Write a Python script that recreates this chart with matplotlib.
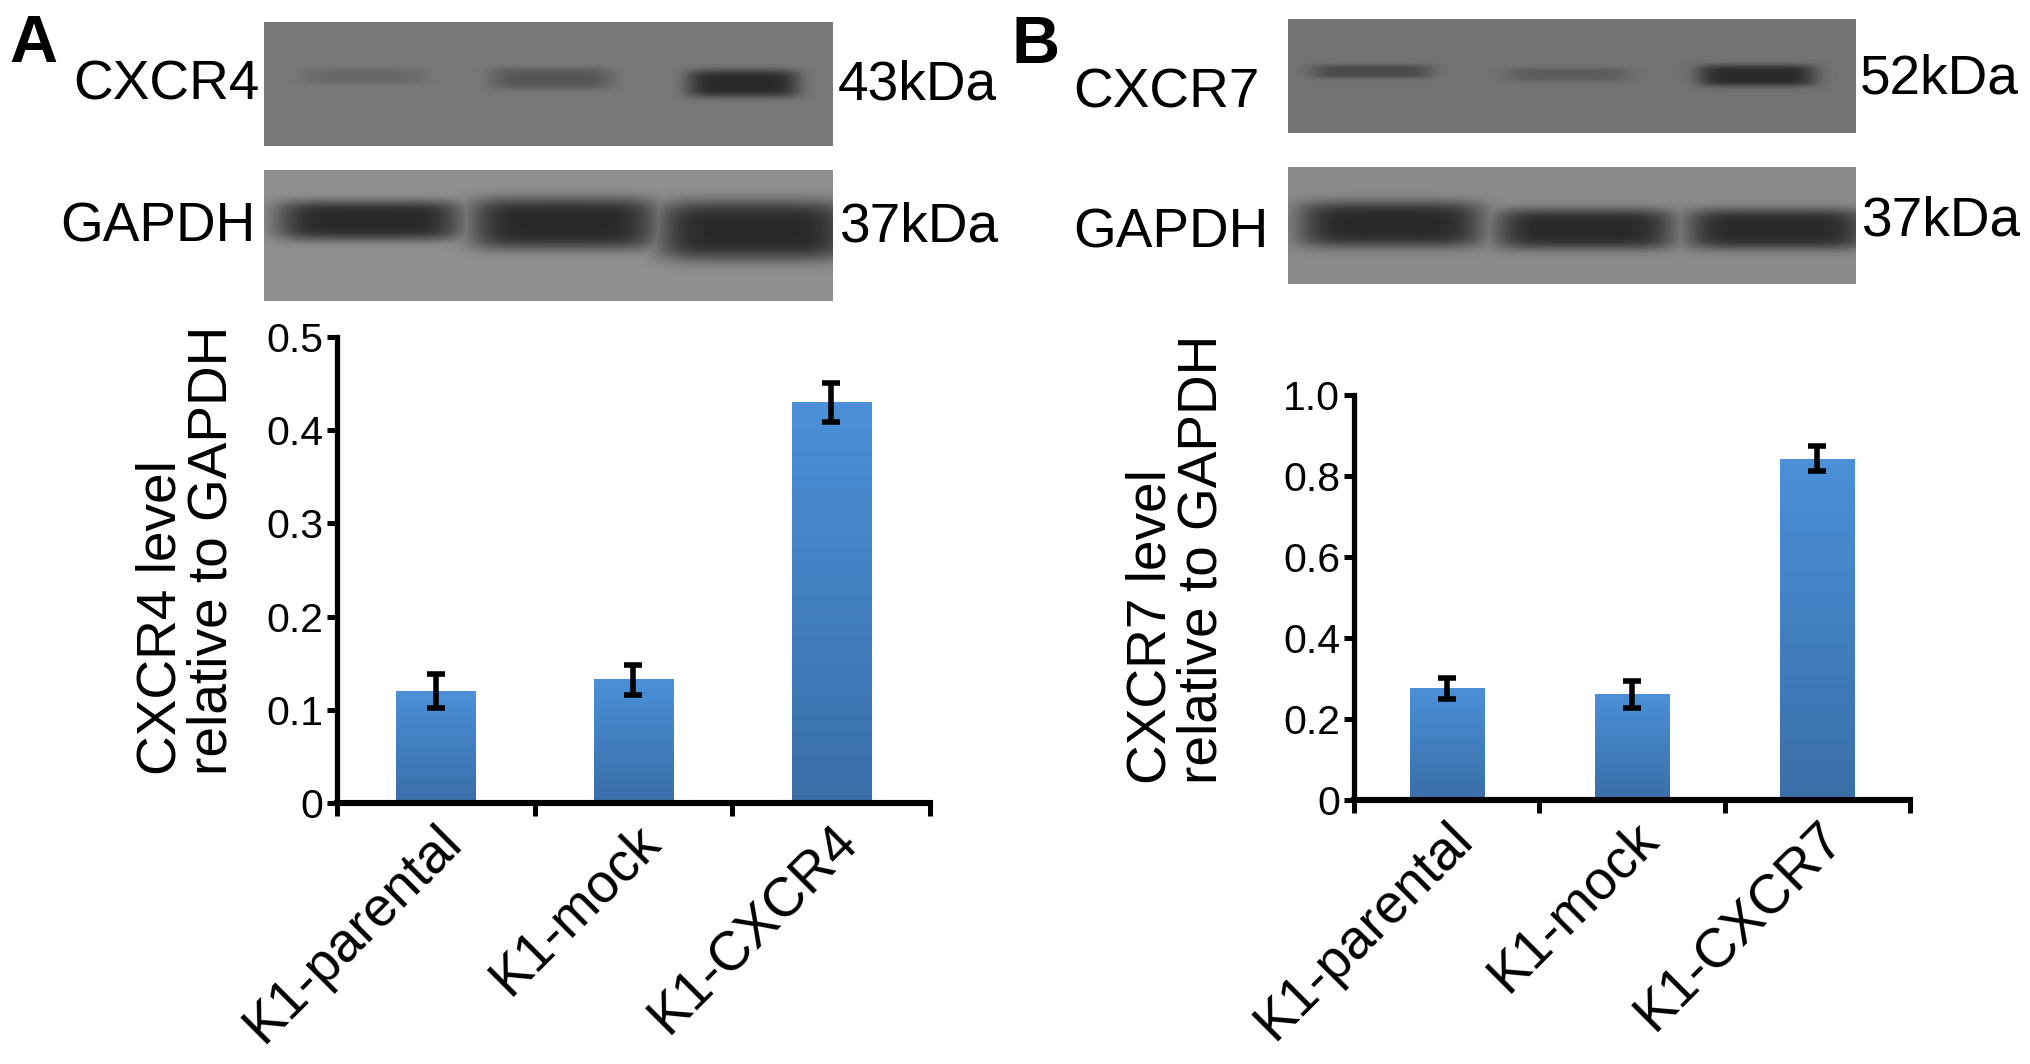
import numpy as np
from matplotlib import pyplot as plt
from matplotlib.colors import LinearSegmentedColormap

plt.rcParams['font.family'] = ['Liberation Sans', 'DejaVu Sans']

W, H = 2031, 1064

# bar data
cats_a = ['K1-parental', 'K1-mock', 'K1-CXCR4']
vals_a = [0.12, 0.133, 0.43]
err_low_a = [0.018, 0.017, 0.021]
err_high_a = [0.018, 0.015, 0.021]
ticks_a = [0, 0.1, 0.2, 0.3, 0.4, 0.5]
ticklabels_a = ['0', '0.1', '0.2', '0.3', '0.4', '0.5']

cats_b = ['K1-parental', 'K1-mock', 'K1-CXCR7']
vals_b = [0.276, 0.262, 0.842]
err_low_b = [0.027, 0.035, 0.030]
err_high_b = [0.026, 0.032, 0.032]
ticks_b = [0, 0.2, 0.4, 0.6, 0.8, 1.0]
ticklabels_b = ['0', '0.2', '0.4', '0.6', '0.8', '1.0']

# blot bands: x0, x1, y0, y1 (pixels), darkness
bands_a_top = [(303, 424, 68, 84, 0.2), (490, 612, 67, 89, 0.42), (686, 799, 69, 97, 1.0)]
bands_a_low = [(276, 462, 200, 240, 1.0), (470, 657, 197, 249, 1.0), (658, 848, 200, 260, 1.0)]
bands_b_top = [(1310, 1432, 64, 78, 0.55), (1507, 1629, 67, 81, 0.3), (1697, 1816, 64, 86, 1.0)]
bands_b_low = [(1298, 1483, 201, 247, 1.0), (1495, 1674, 208, 249, 1.0), (1686, 1866, 208, 249, 1.0)]

bar_cmap = LinearSegmentedColormap.from_list('bar', ['#4b90d8', '#3a6fa9'])

fig = plt.figure(figsize=(W / 100, H / 100), dpi=100, facecolor='white')
bg = fig.add_axes([0, 0, 1, 1])
bg.set_xlim(0, W)
bg.set_ylim(H, 0)
bg.axis('off')


def draw_blot(x0, x1, y0, y1, gray, bands):
    xx, yy = np.meshgrid(np.arange(x0, x1), np.arange(y0, y1))
    dark = np.zeros(xx.shape)
    for bx0, bx1, by0, by1, d in bands:
        cx, cy = (bx0 + bx1) / 2, (by0 + by1) / 2
        a, b = (bx1 - bx0) / 2, (by1 - by0) / 2
        dark = np.maximum(dark, d * np.exp(-(np.abs(xx - cx) / a) ** 6 - (np.abs(yy - cy) / b) ** 4))
    img = gray + (0.16 - gray) * dark
    bg.imshow(img, extent=(x0, x1, y1, y0), cmap='gray', vmin=0, vmax=1, aspect='auto',
              interpolation='bilinear')


draw_blot(264, 833, 22, 146, 0.47, bands_a_top)
draw_blot(264, 833, 170, 301, 0.56, bands_a_low)
draw_blot(1288, 1856, 19, 133, 0.45, bands_b_top)
draw_blot(1288, 1856, 167, 284, 0.54, bands_b_low)
bg.set_xlim(0, W)
bg.set_ylim(H, 0)


def label(x, y, s, size=39.6, **kw):
    bg.text(x, y, s, fontsize=size, va='baseline', ha='left', color='black', **kw)


label(9, 62, 'A', size=48, fontweight='bold')
label(1012, 63, 'B', size=48, fontweight='bold')
label(73, 100, 'CXCR4')
label(60, 242, 'GAPDH')
label(838, 100, '43kDa')
label(840, 242, '37kDa')
label(1073, 107, 'CXCR7')
label(1073, 247, 'GAPDH')
label(1860, 94, '52kDa')
label(1862, 235, '37kDa')


def bar_panel(left, right, top, bottom, cats, vals, low, high, ticks, ticklabels, ymax, ylab, lab_x, lab_y):
    ax = fig.add_axes([left / W, 1 - bottom / H, (right - left) / W, (bottom - top) / H])
    ax.patch.set_alpha(0)
    x = np.arange(len(cats))
    bars = ax.bar(x, vals, width=0.4, color='none', edgecolor='none', zorder=2)
    ax.set_xlim(-0.5, 2.5)
    ax.set_ylim(0, ymax)
    for b in bars:
        im = ax.imshow(np.linspace(0, 1, 128).reshape(-1, 1), cmap=bar_cmap, aspect='auto', zorder=2,
                       extent=(b.get_x(), b.get_x() + b.get_width(), 0, b.get_height()))
        im.set_clip_path(b)
    ax.set_xlim(-0.5, 2.5)
    ax.set_ylim(0, ymax)
    ax.errorbar(x, vals, yerr=[low, high], fmt='none', ecolor='black', elinewidth=4,
                capsize=6.5, capthick=4, zorder=3)
    for s in ['top', 'right']:
        ax.spines[s].set_visible(False)
    ax.spines['left'].set_linewidth(3.8)
    ax.spines['bottom'].set_linewidth(4.4)
    ax.set_yticks(ticks)
    ax.set_yticklabels(ticklabels)
    ax.set_xticks([-0.5, 0.5, 1.5, 2.5])
    ax.set_xticklabels([])
    ax.set_xticks(x, minor=True)
    ax.set_xticklabels(cats, minor=True, rotation=45, ha='right', va='top', rotation_mode='anchor',
                       fontsize=39.5)
    ax.tick_params(axis='x', which='minor', length=0, pad=9)
    ax.tick_params(axis='x', which='major', length=9, width=3.6, direction='out')
    ax.tick_params(axis='y', length=7, width=3.6, direction='out', labelsize=29.5, pad=3)
    bg.text(lab_x, lab_y, ylab, rotation=90, fontsize=39.6, ha='left', va='bottom', ma='left',
            linespacing=0.96, rotation_mode='default')
    return ax


bar_panel(337, 930, 337, 803, cats_a, vals_a, err_low_a, err_high_a, ticks_a, ticklabels_a, 0.5,
          'CXCR4 level\nrelative to GAPDH', 136, 775)
bar_panel(1354, 1910, 395, 800, cats_b, vals_b, err_low_b, err_high_b, ticks_b, ticklabels_b, 1.0,
          'CXCR7 level\nrelative to GAPDH', 1126, 784)

fig.savefig('out.png', dpi=100, facecolor='white')
